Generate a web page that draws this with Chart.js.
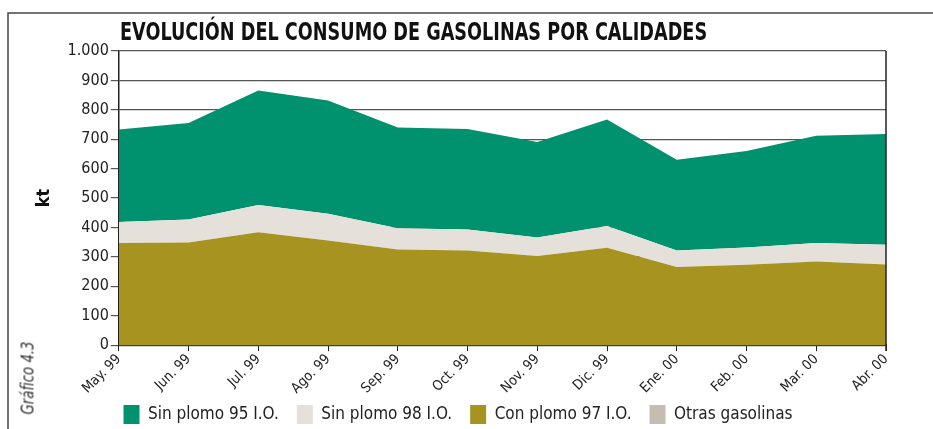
<!DOCTYPE html>
<html lang="es">
<head>
<meta charset="utf-8">
<title>Evolución del consumo de gasolinas por calidades</title>
<script src="https://cdn.jsdelivr.net/npm/chart.js@4/dist/chart.umd.min.js"></script>
<style>
  body { margin: 0; background: #fff; }
  #caja { position: relative; width: 933px; height: 429px; overflow: hidden; }
  #grafico { position: absolute; left: 0; top: 0; }
  .narrow { font-family: "Liberation Sans Narrow", "DejaVu Sans Condensed", sans-serif; }
  #titulo { position: absolute; left: 120px; top: 17px; font-size: 25px; font-weight: bold; color: #111;
            white-space: nowrap; transform: scaleX(0.785); transform-origin: left center; }
  #numero { position: absolute; left: 27px; top: 378px; font-size: 18px; font-style: italic; color: #333;
            transform: translate(-50%, -50%) rotate(-90deg) scaleX(0.82); white-space: nowrap; }
</style>
</head>
<body>
<div id="caja">
  <canvas id="grafico" width="933" height="429"></canvas>
  <div id="titulo" class="narrow">EVOLUCIÓN DEL CONSUMO DE GASOLINAS POR CALIDADES</div>
  <div id="numero" class="narrow">Gráfico 4.3</div>
</div>
<script>
const meses = ["May. 99", "Jun. 99", "Jul. 99", "Ago. 99", "Sep. 99", "Oct. 99",
               "Nov. 99", "Dic. 99", "Ene. 00", "Feb. 00", "Mar. 00", "Abr. 00"];

// kt por calidad (apiladas de abajo a arriba)
const conPlomo97 = [347, 349, 384, 356, 325, 322, 303, 331, 266, 273, 284, 274];
const sinPlomo98 = [72, 78, 92, 91, 72, 71, 63, 74, 56, 59, 63, 67];
const sinPlomo95 = [314, 328, 390, 385, 343, 342, 325, 362, 308, 328, 365, 377];
const otras = [0, 0, 0, 0, 0, 0, 0, 0, 0, 0, 0, 0];

// orden de la leyenda (indices de dataset)
const ordenLeyenda = [2, 1, 0, 3];

const fuente = "'Liberation Sans Narrow', 'DejaVu Sans Condensed', sans-serif";

// formato 1.000
function miles(v) {
  return String(v).replace(/\B(?=(\d{3})+(?!\d))/g, ".");
}

// marco exterior y borde derecho del área
const marco = {
  id: "marco",
  afterLayout(chart) {
    // la leyenda se monta un poco sobre la zona del eje x, como en el original
    const lg = chart.legend;
    lg.top -= 10;
    lg.bottom -= 10;
    lg.left -= 2;
    lg.right -= 2;
  },
  afterDraw(chart) {
    const ctx = chart.ctx;
    const a = chart.chartArea;
    ctx.save();
    ctx.strokeStyle = "#444";
    ctx.lineWidth = 1.5;
    ctx.beginPath();
    ctx.moveTo(8, 429);
    ctx.lineTo(8, 13);
    ctx.lineTo(933, 13);
    ctx.stroke();
    ctx.strokeStyle = "#222";
    ctx.beginPath();
    ctx.moveTo(a.right, a.top);
    ctx.lineTo(a.right, a.bottom + 6);
    ctx.stroke();
    ctx.restore();
  }
};

const capa = (label, data, color, fill) => ({
  label: label,
  data: data,
  backgroundColor: color,
  borderColor: color,
  borderWidth: 0,
  pointRadius: 0,
  fill: fill
});

new Chart(document.getElementById("grafico"), {
  type: "line",
  data: {
    labels: meses,
    datasets: [
      capa("Con plomo 97 I.O.", conPlomo97, "#a79320", "origin"),
      capa("Sin plomo 98 I.O.", sinPlomo98, "#e6e0db", "-1"),
      capa("Sin plomo 95 I.O.", sinPlomo95, "#00926f", "-1"),
      capa("Otras gasolinas", otras, "#c5bdb0", "-1")
    ]
  },
  options: {
    responsive: false,
    animation: false,
    layout: { padding: { top: 51, left: 34, right: 47, bottom: -15 } },
    plugins: {
      tooltip: { enabled: false },
      legend: {
        position: "bottom",
        labels: {
          boxWidth: 16,
          boxHeight: 19,
          padding: 18,
          color: "#222",
          font: { family: fuente, size: 17 },
          sort: (a, b) => ordenLeyenda.indexOf(a.datasetIndex) - ordenLeyenda.indexOf(b.datasetIndex)
        }
      }
    },
    scales: {
      x: {
        offset: false,
        grid: { drawOnChartArea: false, tickLength: 6, color: "#222" },
        border: { color: "#222", width: 1.5 },
        ticks: {
          maxRotation: 45,
          minRotation: 45,
          padding: 0,
          color: "#222",
          font: { family: fuente, size: 14 }
        }
      },
      y: {
        stacked: true,
        min: 0,
        max: 1000,
        grid: { color: "#555", lineWidth: 1.2, tickLength: 8 },
        border: { color: "#222", width: 1.5 },
        title: {
          display: true,
          text: "kt",
          color: "#111",
          padding: { top: 0, bottom: 10 },
          font: { family: fuente, size: 18, weight: "bold" }
        },
        ticks: {
          stepSize: 100,
          padding: 2,
          color: "#222",
          font: { family: fuente, size: 16 },
          callback: (v) => miles(v)
        }
      }
    }
  },
  plugins: [marco]
});
</script>
</body>
</html>
